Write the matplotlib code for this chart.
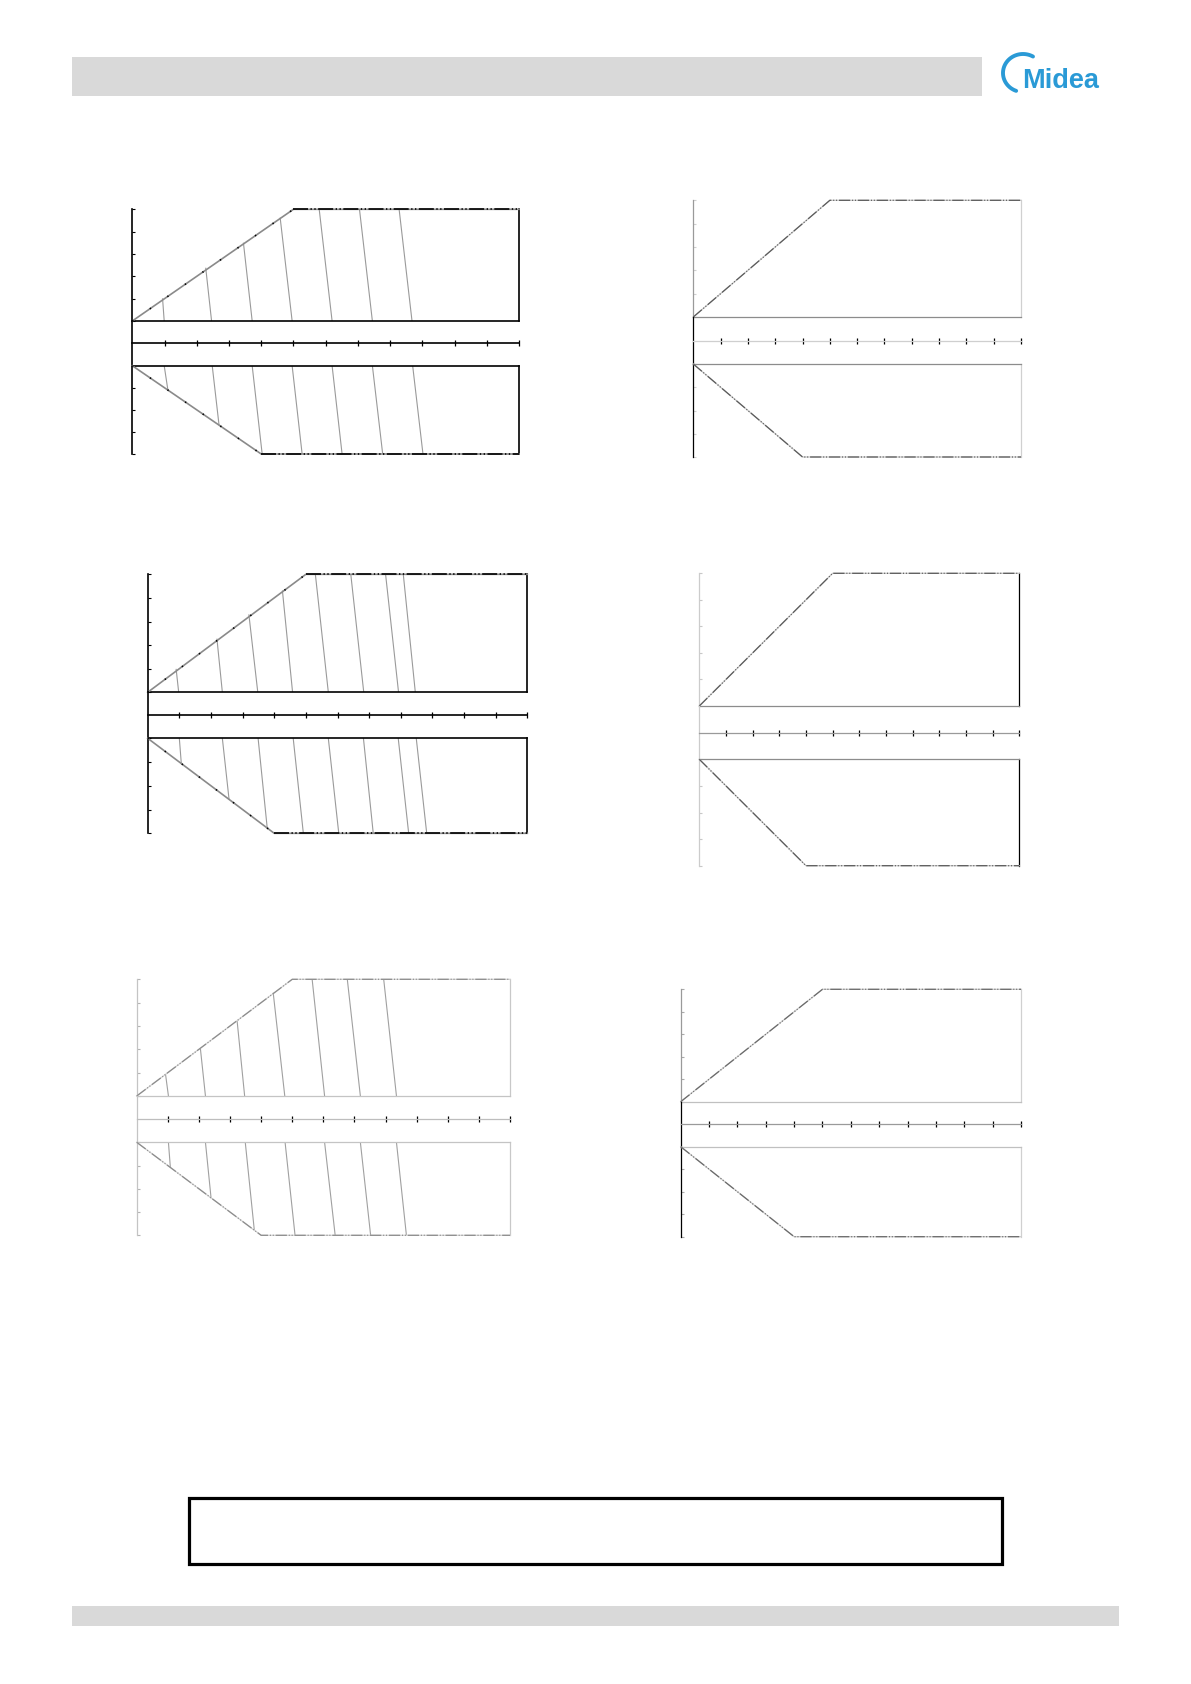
import numpy as np
import matplotlib.pyplot as plt
from matplotlib.patches import Rectangle

W, H = 1191, 1684

# axis ticks (distance along the centre axis, height in the two panels)
X_TICKS = list(range(1, 13))
UP_TICKS = list(range(0, 6))
LOW_TICKS = list(range(0, 5))

# outline of the air throw zone, same on all six diagrams
UP_EDGE_X = [0, 5, 12]
UP_EDGE_Y = [0, 5, 5]
LOW_EDGE_X = [0, 4, 12]
LOW_EDGE_Y = [0, 4, 4]

# isolines, diagram 1 (top left)
C1_UP_TOP_X = [0.94, 2.28, 3.45, 4.59, 5.80, 7.05, 8.28]
C1_UP_TOP_Y = [0.99, 2.36, 3.48, 4.60, 5, 5, 5]
C1_UP_BASE_X = [0.99, 2.46, 3.72, 4.96, 6.20, 7.45, 8.68]
C1_LOW_BASE_X = [0.99, 2.48, 3.72, 4.96, 6.20, 7.45, 8.70]
C1_LOW_END_X = [1.10, 2.69, 4.03, 5.27, 6.51, 7.77, 9.02]
C1_LOW_END_Y = [1.06, 2.67, 4, 4, 4, 4, 4]

# isolines, diagram 3 (middle left)
C3_UP_TOP_X = [0.90, 2.19, 3.20, 4.26, 5.30, 6.42, 7.52, 8.08]
C3_UP_TOP_Y = [0.97, 2.25, 3.28, 4.29, 5, 5, 5, 5]
C3_UP_BASE_X = [0.98, 2.36, 3.48, 4.58, 5.71, 6.83, 7.93, 8.46]
C3_LOW_BASE_X = [1.00, 2.36, 3.49, 4.60, 5.71, 6.82, 7.92, 8.49]
C3_LOW_END_X = [1.06, 2.57, 3.78, 4.92, 6.04, 7.13, 8.25, 8.82]
C3_LOW_END_Y = [1.02, 2.55, 3.80, 4, 4, 4, 4, 4]

# isolines, diagram 5 (bottom left)
C5_UP_TOP_X = [0.93, 2.05, 3.23, 4.39, 5.64, 6.77, 7.94]
C5_UP_TOP_Y = [0.90, 2.00, 3.19, 4.40, 5, 5, 5]
C5_UP_BASE_X = [1.02, 2.21, 3.47, 4.76, 6.04, 7.19, 8.35]
C5_LOW_BASE_X = [1.02, 2.21, 3.49, 4.77, 6.04, 7.19, 8.35]
C5_LOW_END_X = [1.08, 2.39, 3.78, 5.09, 6.38, 7.52, 8.67]
C5_LOW_END_Y = [1.05, 2.39, 3.77, 4, 4, 4, 4]

ISOLINES = {
    0: (C1_UP_TOP_X, C1_UP_TOP_Y, C1_UP_BASE_X, C1_LOW_BASE_X, C1_LOW_END_X, C1_LOW_END_Y),
    2: (C3_UP_TOP_X, C3_UP_TOP_Y, C3_UP_BASE_X, C3_LOW_BASE_X, C3_LOW_END_X, C3_LOW_END_Y),
    4: (C5_UP_TOP_X, C5_UP_TOP_Y, C5_UP_BASE_X, C5_LOW_BASE_X, C5_LOW_END_X, C5_LOW_END_Y),
}

# page position of each diagram in pixels: left, right, upper top, upper bottom,
# centre axis, lower top, lower bottom
LAYOUT = [
    (132.3, 519.0, 209.3, 321.0, 343.3, 365.7, 454.0),
    (693.3, 1021.0, 200.3, 317.0, 341.0, 364.0, 457.0),
    (147.7, 527.3, 574.3, 692.3, 715.0, 738.3, 833.3),
    (699.3, 1019.3, 573.3, 706.0, 733.0, 759.3, 865.7),
    (136.7, 510.0, 979.3, 1096.0, 1119.3, 1142.3, 1235.3),
    (680.7, 1021.0, 989.3, 1101.7, 1124.3, 1146.7, 1236.7),
]

DARK = dict(frame='black', right='black', axis_up='black', axis_low='black',
            centre='black', ytick='black', base='#8a8a8a', dash='black', lw=1.2)
STYLES = [
    DARK,
    dict(frame='#8c8c8c', right='#d0d0d0', axis_up='#9a9a9a', axis_low='black',
         centre='#cfcfcf', ytick='#d0d0d0', base='#c8c8c8', dash='#5a5a5a', lw=0.9),
    DARK,
    dict(frame='#8c8c8c', right='black', axis_up='#cccccc', axis_low='#cccccc',
         centre='#9a9a9a', ytick='#c8c8c8', base='#c8c8c8', dash='#5a5a5a', lw=0.9),
    dict(frame='#c4c4c4', right='#c8c8c8', axis_up='#c4c4c4', axis_low='#c4c4c4',
         centre='#bdbdbd', ytick='#b4b4b4', base='#d4d4d4', dash='#8c8c8c', lw=0.9),
    dict(frame='#c0c0c0', right='#d0d0d0', axis_up='#9a9a9a', axis_low='black',
         centre='#9a9a9a', ytick='#aaaaaa', base='#cccccc', dash='#6a6a6a', lw=0.9),
]
TICK_SHADES = ['kkkkkkkkkkkk', 'kgkkgkkkgkkg', 'kkkkkkkkkkkk',
               'kkggkkgkkgkk', 'kkkkkkkkkkgg', 'kgkkkkgkkkkg']

fig = plt.figure(figsize=(W / 100, H / 100), dpi=100)

# page decoration: header bar, logo, footer bar, note box
page = fig.add_axes([0, 0, 1, 1])
page.set_xlim(0, W)
page.set_ylim(H, 0)
page.axis('off')
page.add_patch(Rectangle((72, 56.7), 910, 39, facecolor='#d9d9d9', edgecolor='none'))
page.add_patch(Rectangle((72, 1605.7), 1047, 20.3, facecolor='#d9d9d9', edgecolor='none'))
page.add_patch(Rectangle((189, 1498), 813, 66, facecolor='none', edgecolor='black', lw=2.3))
t = np.linspace(np.radians(60), np.radians(250), 80)
page.plot(1023 + 20 * np.cos(t), 73 - 19 * np.sin(t), color='#2a9ad6', lw=2.8,
          solid_capstyle='round')
page.text(1022, 88, 'Midea', fontsize=19.5, fontweight='bold', color='#2a9ad6',
          family='Liberation Sans', ha='left', va='baseline')


def panel(L, R, top, bot):
    return fig.add_axes([L / W, 1 - bot / H, (R - L) / W, (bot - top) / H])


def draw_outline(ax, xs, ys, st, dark):
    ax.plot(xs, ys, color=st['base'], lw=st['lw'], clip_on=False, zorder=3)
    if dark:
        ax.plot(xs[1:], ys[1:], color=st['dash'], lw=st['lw'],
                dashes=(9, 1.5, 0.8, 1.5, 0.8, 1.5), clip_on=False, zorder=4)
        ax.plot(xs[:2], ys[:2], color=st['dash'], lw=st['lw'],
                dashes=(0.8, 12), clip_on=False, zorder=4)
    else:
        ax.plot(xs, ys, color=st['dash'], lw=st['lw'],
                dashes=(9, 1.5, 0.8, 1.5, 0.8, 1.5), clip_on=False, zorder=4)


for i, (L, R, UT, UB, C, LT, LB) in enumerate(LAYOUT):
    st = STYLES[i]
    dark = st is DARK
    up = panel(L, R, UT, UB)
    mid = panel(L, R, UB, LT)
    low = panel(L, R, LT, LB)
    for ax in (up, mid, low):
        ax.set_xlim(0, 12)
        ax.set_facecolor('none')
        ax.set_xticks([])
        for s in ax.spines.values():
            s.set_visible(False)
            s.set_linewidth(st['lw'])
    up.set_ylim(0, 5)
    low.set_ylim(4, 0)
    mid.set_ylim(-1, 1)

    up.spines['left'].set(visible=True, color=st['axis_up'])
    up.spines['bottom'].set(visible=True, color=st['frame'])
    up.spines['right'].set(visible=True, color=st['right'])
    low.spines['left'].set(visible=True, color=st['axis_low'])
    low.spines['top'].set(visible=True, color=st['frame'])
    low.spines['right'].set(visible=True, color=st['right'])
    mid.spines['left'].set(visible=True, color=st['axis_low'])
    mid.spines['bottom'].set(visible=True, color=st['centre'])
    mid.spines['bottom'].set_position(('axes', (LT - C) / (LT - UB)))

    up.set_yticks(UP_TICKS)
    low.set_yticks(LOW_TICKS)
    for ax in (up, low):
        ax.tick_params(axis='y', direction='in', length=2, width=0.8,
                       color=st['ytick'], labelleft=False)
    mid.set_yticks([])
    mid.set_xticks(X_TICKS)
    mid.tick_params(axis='x', direction='inout', length=3.8, width=0.9, labelbottom=False)
    for tick, shade in zip(mid.xaxis.get_major_ticks(), TICK_SHADES[i]):
        tick.tick1line.set_color('black' if shade == 'k' else '#b4b4b4')

    draw_outline(up, UP_EDGE_X, UP_EDGE_Y, st, dark)
    draw_outline(low, LOW_EDGE_X, LOW_EDGE_Y, st, dark)

    if i in ISOLINES:
        top_x, top_y, base_x, lbase_x, lend_x, lend_y = ISOLINES[i]
        iso_c = '#9a9a9a' if dark else '#a0a0a0'
        for k in range(len(top_x)):
            up.plot([top_x[k], base_x[k]], [top_y[k], 0], color=iso_c, lw=0.8)
            low.plot([lbase_x[k], lend_x[k]], [0, lend_y[k]], color=iso_c, lw=0.8)

plt.savefig('out.png', dpi=100)
